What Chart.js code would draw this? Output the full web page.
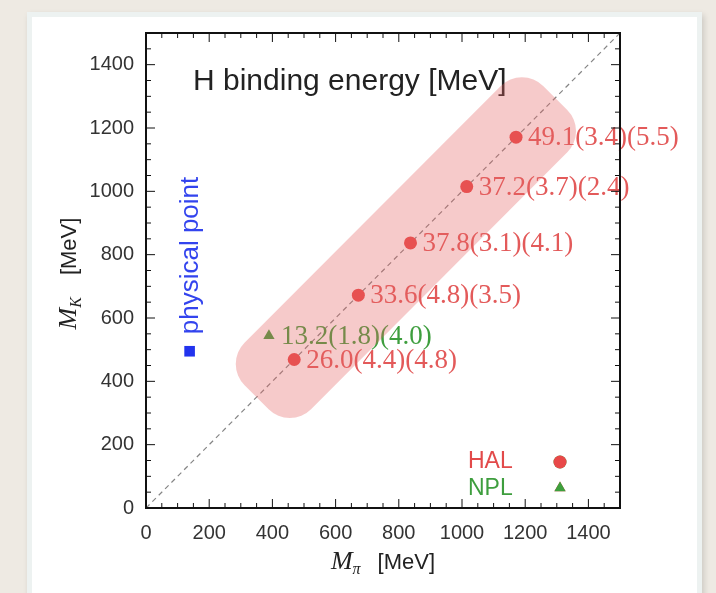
<!DOCTYPE html>
<html>
<head>
<meta charset="utf-8">
<script src="https://cdn.jsdelivr.net/npm/chart.js@4.4.1/dist/chart.umd.min.js"></script>
<style>
  html, body { margin: 0; padding: 0; }
  body { width: 716px; height: 593px; background: #eeeae3; position: relative; overflow: hidden; }
  .card { position: absolute; left: 27px; top: 12px; width: 665px; height: 600px; background: #fff; border: 5px solid #edf2f1; box-shadow: 2px 3px 6px rgba(0,0,0,0.15); }
  #myChart { position: absolute; left: 0; top: 0; filter: blur(0.4px); }
</style>
</head>
<body>
<div class="card"></div>
<canvas id="myChart" width="716" height="593"></canvas>
<script>
const xTicks = [0, 200, 400, 600, 800, 1000, 1200, 1400];
const yTicks = [0, 200, 400, 600, 800, 1000, 1200, 1400];
const halMpi = [469, 672, 837, 1015, 1171];
const halMK = [469, 672, 837, 1015, 1171];
const halBE = ['26.0(4.4)(4.8)', '33.6(4.8)(3.5)', '37.8(3.1)(4.1)', '37.2(3.7)(2.4)', '49.1(3.4)(5.5)'];
const nplMpi = [389];
const nplMK = [544];
const nplBE = ['13.2(1.8)(4.0)'];
const physMpi = [138];
const physMK = [495];
const diagonal = [0, 1500];

const RED = '#e84848';
const GREEN = '#3d9f3d';
const BLUE = '#2233ee';

// highlight band along the diagonal (data units for the ends)
const bandFrom = 350;
const bandTo = 1295;

function drawParts(ctx, parts, cx, baseline) {
  let total = 0;
  parts.forEach(p => { ctx.font = p.font; p.w = ctx.measureText(p.text).width; total += p.w + (p.gap || 0); });
  let x = cx - total / 2;
  parts.forEach(p => {
    ctx.font = p.font;
    ctx.fillText(p.text, x, baseline + (p.dy || 0));
    x += p.w + (p.gap || 0);
  });
}

const decor = {
  id: 'decor',
  afterDatasetsDraw(chart) {
    const ctx = chart.ctx;
    ctx.save();
    ctx.font = '27px "Liberation Serif"';
    ctx.textBaseline = 'middle';
    ctx.textAlign = 'left';
    [[0, halBE, '#e35a5a'], [1, nplBE, '#3e9e3e']].forEach(([i, texts, color]) => {
      chart.getDatasetMeta(i).data.forEach((pt, j) => {
        ctx.fillStyle = color;
        ctx.fillText(texts[j], pt.x + 12, pt.y + 1);
      });
    });
    ctx.restore();
  },
  afterDraw(chart) {
    const ctx = chart.ctx;
    const a = chart.chartArea;
    const xs = chart.scales.x, ys = chart.scales.y;
    ctx.save();

    // frame
    ctx.strokeStyle = '#111';
    ctx.lineWidth = 2;
    ctx.strokeRect(a.left, a.top, a.right - a.left, a.bottom - a.top);

    // inward ticks on all four sides
    ctx.lineWidth = 1;
    for (let v = 50; v < 1500; v += 50) {
      const len = v % 200 === 0 ? 9 : 5;
      const px = xs.getPixelForValue(v);
      const py = ys.getPixelForValue(v);
      ctx.beginPath();
      ctx.moveTo(px, a.bottom); ctx.lineTo(px, a.bottom - len);
      ctx.moveTo(px, a.top); ctx.lineTo(px, a.top + len);
      ctx.moveTo(a.left, py); ctx.lineTo(a.left + len, py);
      ctx.moveTo(a.right, py); ctx.lineTo(a.right - len, py);
      ctx.stroke();
    }

    // title inside the plot
    ctx.fillStyle = '#222';
    ctx.font = '30px "Liberation Sans"';
    ctx.textBaseline = 'middle';
    ctx.textAlign = 'left';
    ctx.fillText('H binding energy [MeV]', a.left + 47, a.top + 49);

    // physical point label
    const phys = chart.getDatasetMeta(2).data[0];
    ctx.save();
    ctx.translate(phys.x, phys.y - 17);
    ctx.rotate(-Math.PI / 2);
    ctx.fillStyle = '#3344ee';
    ctx.font = '26px "Liberation Sans"';
    ctx.textBaseline = 'middle';
    ctx.fillText('physical point', 0, 1);
    ctx.restore();

    // legend
    ctx.font = '23px "Liberation Sans"';
    ctx.textBaseline = 'middle';
    ctx.fillStyle = '#e24a4a';
    ctx.fillText('HAL', a.right - 152, a.bottom - 46);
    ctx.fillStyle = '#3e9e3e';
    ctx.fillText('NPL', a.right - 152, a.bottom - 19);
    Chart.helpers.drawPoint(ctx, { pointStyle: 'circle', radius: 6.5, borderWidth: 0 }, a.right - 60, a.bottom - 46);
    ctx.fillStyle = RED;
    ctx.fill();
    Chart.helpers.drawPoint(ctx, { pointStyle: 'triangle', radius: 6.5, borderWidth: 0 }, a.right - 60, a.bottom - 20);
    ctx.fillStyle = GREEN;
    ctx.fill();

    // axis titles
    ctx.fillStyle = '#222';
    ctx.textAlign = 'left';
    ctx.textBaseline = 'alphabetic';
    const cx = (a.left + a.right) / 2;
    drawParts(ctx, [
      { text: 'M', font: 'italic 26px "Liberation Serif"' },
      { text: '\u03c0', font: 'italic 16px "Liberation Serif"', dy: 5, gap: 17 },
      { text: '[MeV]', font: '22px "Liberation Sans"' }
    ], cx, 569);
    ctx.save();
    ctx.translate(68, (a.top + a.bottom) / 2 + 3);
    ctx.rotate(-Math.PI / 2);
    drawParts(ctx, [
      { text: 'M', font: 'italic 26px "Liberation Serif"' },
      { text: 'K', font: 'italic 16px "Liberation Serif"', dy: 5, gap: 22 },
      { text: '[MeV]', font: '22px "Liberation Sans"' }
    ], 0, 8);
    ctx.restore();

    // translucent highlight band
    const x1 = xs.getPixelForValue(bandFrom), y1 = ys.getPixelForValue(bandFrom);
    const x2 = xs.getPixelForValue(bandTo), y2 = ys.getPixelForValue(bandTo);
    const len = Math.hypot(x2 - x1, y2 - y1);
    ctx.translate(x1, y1);
    ctx.rotate(Math.atan2(y2 - y1, x2 - x1));
    ctx.beginPath();
    ctx.roundRect(0, -47, len, 94, 30);
    ctx.fillStyle = 'rgba(228, 100, 100, 0.34)';
    ctx.fill();
    ctx.restore();
  }
};

new Chart(
  document.getElementById('myChart'),
  {
    type: 'scatter',
    data: {
      datasets: [
        {
          label: 'HAL',
          data: halMpi.map((v, i) => ({ x: v, y: halMK[i] })),
          pointStyle: 'circle',
          pointRadius: 6.5,
          backgroundColor: RED,
          borderWidth: 0
        },
        {
          label: 'NPL',
          data: nplMpi.map((v, i) => ({ x: v, y: nplMK[i] })),
          pointStyle: 'triangle',
          pointRadius: 6.5,
          backgroundColor: GREEN,
          borderWidth: 0
        },
        {
          label: 'physical point',
          data: physMpi.map((v, i) => ({ x: v, y: physMK[i] })),
          pointStyle: 'rect',
          pointRadius: 7.5,
          backgroundColor: BLUE,
          borderWidth: 0
        },
        {
          type: 'line',
          label: 'diagonal',
          data: diagonal.map(v => ({ x: v, y: v })),
          borderColor: '#858585',
          borderWidth: 1.2,
          borderDash: [5, 4],
          pointRadius: 0,
          fill: false
        }
      ]
    },
    options: {
      responsive: false,
      animation: false,
      devicePixelRatio: 1,
      layout: { padding: { top: 33, right: 96, left: 0, bottom: 0 } },
      plugins: { legend: { display: false }, tooltip: { enabled: false } },
      scales: {
        x: {
          type: 'linear',
          min: 0,
          max: 1500,
          grid: { display: false, drawTicks: false },
          border: { display: false },
          ticks: {
            color: '#333',
            font: { family: 'Liberation Sans', size: 20 },
            padding: 13,
            maxRotation: 0,
            autoSkip: false,
            callback: value => String(value)
          },
          afterBuildTicks: s => { s.ticks = xTicks.map(v => ({ value: v })); },
          afterFit: s => { s.height = 85; }
        },
        y: {
          type: 'linear',
          min: 0,
          max: 1500,
          grid: { display: false, drawTicks: false },
          border: { display: false },
          ticks: {
            color: '#333',
            font: { family: 'Liberation Sans', size: 20 },
            padding: 12,
            autoSkip: false,
            callback: value => String(value)
          },
          afterBuildTicks: s => { s.ticks = yTicks.map(v => ({ value: v })); },
          afterFit: s => { s.width = 146; }
        }
      }
    },
    plugins: [decor]
  }
);
</script>
</body>
</html>
